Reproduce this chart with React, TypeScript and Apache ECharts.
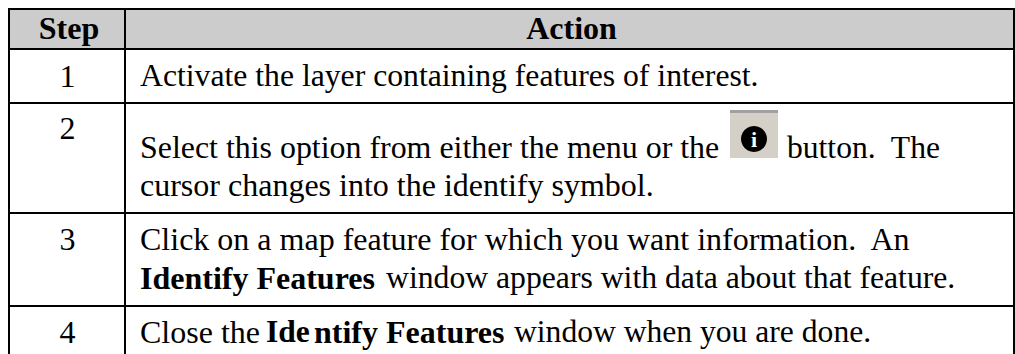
import React, { useEffect, useRef } from "react";
import * as echarts from "echarts";

const headers = ["Step", "Action"];
const steps = ["1", "2", "3", "4"];
const stepTexts = [
  "Activate the layer containing features of interest.",
  "Select this option from either the menu or the",
  "button.  The",
  "cursor changes into the identify symbol.",
  "Click on a map feature for which you want information.  An",
  "Identify Features",
  "window appears with data about that feature.",
  "Close the",
  "Ide",
  "ntify Features",
  "window when you are done.",
];

const FONT = "'Liberation Serif', 'Times New Roman', serif";
const SIZE = 32;
const BASE = 10.5; // baseline offset from the text's middle

// x, baseline y, bold, font size for each run of stepTexts
const runLayout: [number, number, boolean, number][] = [
  [140, 86, false, 31.7],
  [140, 158, false, 31.9],
  [787, 158, false, 31.6],
  [140, 195, false, 32],
  [140, 249, false, 32],
  [140, 288, true, 32],
  [386, 288, false, 31.7],
  [140, 342, false, 32],
  [266, 342, true, 31.5],
  [314, 342, true, 32],
  [514, 342, false, 31.6],
];
const stepBaseline = [86, 138, 249, 342];

export default function App() {
  const ref = useRef<HTMLDivElement>(null);
  useEffect(() => {
    const chart = echarts.init(ref.current!, undefined, { renderer: "svg" });
    const bar = (x: number, y: number, w: number, h: number, fill = "#000") => ({
      type: "rect", shape: { x, y, width: w, height: h }, style: { fill }, silent: true,
    });
    const txt = (x: number, baseline: number, text: string, bold = false, align = "left", size = SIZE) => ({
      type: "text", x, y: baseline - BASE, silent: true,
      style: { text, fill: "#000", font: `${bold ? "bold " : ""}${size}px ${FONT}`, textAlign: align, textVerticalAlign: "middle" },
    });
    const elements: any[] = [
      bar(9, 9, 1005, 40, "#cccccc"),
      bar(8, 8, 1007, 2),
      bar(8, 48, 1007, 2),
      bar(8, 102, 1007, 2),
      bar(8, 212, 1007, 2),
      bar(8, 305, 1007, 2),
      bar(8, 8, 2, 346),
      bar(124, 8, 2, 346),
      bar(1013, 8, 2, 346),
      txt(69, 38, headers[0], true, "center"),
      txt(571.5, 38, headers[1], true, "center"),
      ...steps.map((s, i) => txt(67.5, stepBaseline[i], s, false, "center")),
      ...stepTexts.map((t, i) => txt(runLayout[i][0], runLayout[i][1], t, runLayout[i][2], "left", runLayout[i][3])),
      bar(730, 110, 48, 48, "#d4d0c8"),
      bar(730, 110, 48, 3, "#a0a0a0"),
      { type: "circle", shape: { cx: 754, cy: 139, r: 13 }, style: { fill: "#000" }, silent: true },
      { type: "text", x: 754, y: 139, silent: true, style: { text: "i", fill: "#fff", font: `bold 22px ${FONT}`, textAlign: "center", textVerticalAlign: "middle" } },
    ];
    chart.setOption({ animation: false, graphic: { elements } });
    return () => chart.dispose();
  }, []);
  return <div ref={ref} style={{ position: "fixed", left: 0, top: 0, width: 1015, height: 354, background: "#fff" }} />;
}
